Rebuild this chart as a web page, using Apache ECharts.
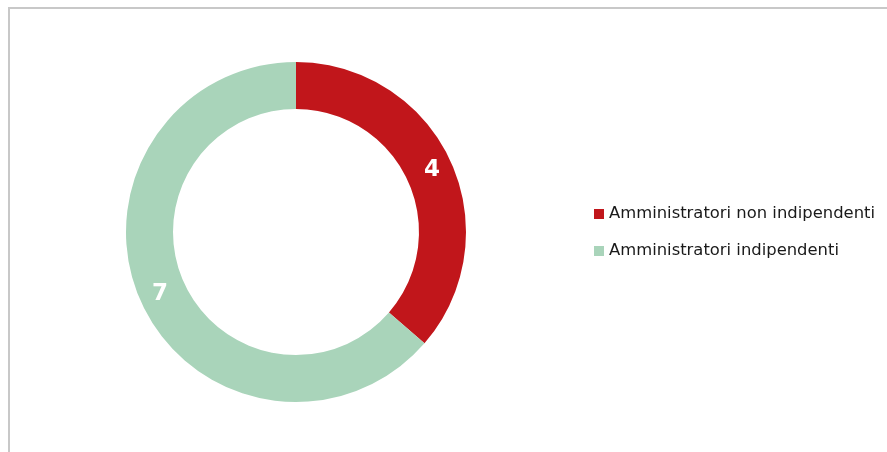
<!DOCTYPE html>
<html>
<head>
<meta charset="utf-8">
<script src="https://cdn.jsdelivr.net/npm/echarts@6/dist/echarts.min.js"></script>
<style>
html,body{margin:0;padding:0;background:#fff;}
#frame{position:absolute;left:8px;top:7px;width:900px;height:460px;border-left:2px solid #c8c8c8;border-top:2px solid #c8c8c8;box-sizing:border-box;}
#chart{position:absolute;left:0;top:0;width:887px;height:452px;}
</style>
</head>
<body>
<div id="frame"></div>
<div id="chart"></div>
<script>
const categories = ["Amministratori non indipendenti", "Amministratori indipendenti"];
const values = [4, 7];
const colors = ["#C1161B", "#A9D4BA"];

const chart = echarts.init(document.getElementById('chart'), null, {renderer: 'canvas'});
chart.setOption({
  animation: false,
  backgroundColor: 'transparent',
  legend: {
    orient: 'vertical',
    left: 594,
    top: 206,
    padding: 0,
    icon: 'rect',
    itemWidth: 10,
    itemHeight: 10,
    itemGap: 21,
    textStyle: {fontFamily: 'DejaVu Sans', fontSize: 16.4, color: '#1a1a1a'},
    data: categories
  },
  series: [{
    type: 'pie',
    center: [296, 232],
    radius: [123, 170],
    startAngle: 90,
    clockwise: true,
    avoidLabelOverlap: false,
    label: {
      show: true,
      position: 'inside',
      formatter: '{c}',
      color: '#fff',
      fontFamily: 'DejaVu Sans',
      fontWeight: 'bold',
      fontSize: 23
    },
    labelLine: {show: false},
    itemStyle: {borderWidth: 0},
    emphasis: {disabled: true},
    data: categories.map((n, i) => ({name: n, value: values[i], itemStyle: {color: colors[i]}}))
  }]
});
</script>
</body>
</html>
